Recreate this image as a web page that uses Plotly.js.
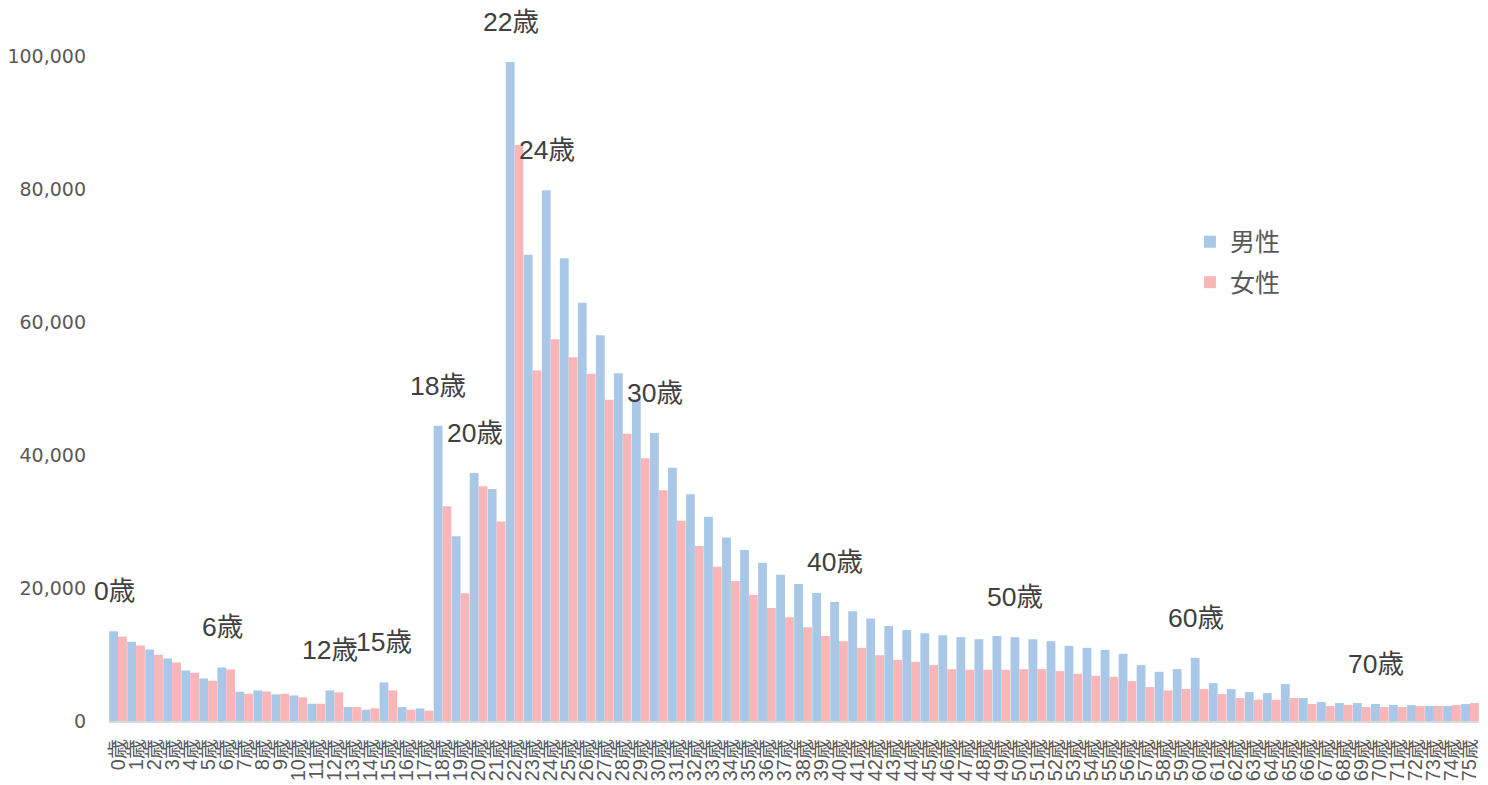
<!DOCTYPE html>
<html>
<head>
<meta charset="utf-8">
<script src="https://cdn.plot.ly/plotly-3.0.1.min.js"></script>
<style>
html,body{margin:0;padding:0;background:#fff;}
#chart{width:1488px;height:785px;}
</style>
</head>
<body>
<div id="chart"></div>
<script>
const ages = ["0歳","1歳","2歳","3歳","4歳","5歳","6歳","7歳","8歳","9歳",
"10歳","11歳","12歳","13歳","14歳","15歳","16歳","17歳","18歳","19歳",
"20歳","21歳","22歳","23歳","24歳","25歳","26歳","27歳","28歳","29歳",
"30歳","31歳","32歳","33歳","34歳","35歳","36歳","37歳","38歳","39歳",
"40歳","41歳","42歳","43歳","44歳","45歳","46歳","47歳","48歳","49歳",
"50歳","51歳","52歳","53歳","54歳","55歳","56歳","57歳","58歳","59歳",
"60歳","61歳","62歳","63歳","64歳","65歳","66歳","67歳","68歳","69歳",
"70歳","71歳","72歳","73歳","74歳","75歳"];

const male = [13500,11900,10750,9400,7600,6400,8050,4400,4600,4000,
3850,2600,4600,2100,1700,5800,2100,1900,44400,27800,
37300,34900,99100,70100,79800,69600,62900,58000,52300,48400,
43300,38100,34100,30700,27600,25700,23800,22000,20600,19250,
17900,16500,15400,14300,13700,13200,12900,12600,12300,12800,
12600,12300,12000,11300,11000,10700,10100,8400,7400,7800,
9500,5700,4800,4350,4200,5550,3450,2850,2700,2700,
2550,2400,2400,2250,2250,2550];

const female = [12700,11350,9950,8800,7250,6050,7750,4100,4450,4100,
3550,2600,4300,2100,1900,4600,1700,1550,32300,19200,
35300,30000,86600,52700,57400,54700,52200,48300,43200,39500,
34700,30100,26300,23200,21050,18950,17000,15600,14100,12800,
12000,11000,9900,9200,8900,8400,7800,7700,7700,7700,
7800,7800,7500,7100,6800,6650,6000,5100,4600,4800,
4800,4050,3450,3200,3200,3450,2550,2250,2400,2100,
2100,2100,2250,2250,2400,2700];

const labeledAges = ["0歳","6歳","12歳","15歳","18歳","20歳","22歳","24歳","30歳","40歳","50歳","60歳","70歳"];

const seriesNames = ["男性","女性"];
const yTicks = [0,20000,40000,60000,80000,100000];
const yTickText = ["0","20,000","40,000","60,000","80,000","100,000"];

const cjk = "Liberation Sans, Noto Sans CJK JP, sans-serif";

const traces = [
  {type:"bar", name:seriesNames[0], x:ages, y:male, marker:{color:"#a9c8e8"}, legendgroup:"m", hoverinfo:"x+y"},
  {type:"bar", name:seriesNames[1], x:ages, y:female, marker:{color:"#f8b6b9"}, legendgroup:"f", hoverinfo:"x+y"}
];

const annotations = labeledAges.map(a => ({
  x:a, y:male[ages.indexOf(a)], xref:"x", yref:"y",
  text:a, showarrow:false, yanchor:"middle", yshift:40, xshift:-4,
  font:{family:cjk, size:26.5, color:"#404040"}
}));

const layout = {
  width:1488, height:785,
  margin:{l:109, r:9, t:56, b:64},
  paper_bgcolor:"#fff", plot_bgcolor:"#fff",
  barmode:"group", bargap:0.02, bargroupgap:0,
  showlegend:true,
  legend:{x:0.789, y:0.755, xanchor:"left", yanchor:"top",
    font:{family:"Noto Sans CJK JP, sans-serif", size:25, color:"#595959"},
    tracegroupgap:5, bgcolor:"rgba(0,0,0,0)"},
  xaxis:{type:"category", range:[-0.5, ages.length-0.5], autorange:false,
    tickmode:"array", tickvals:ages, ticktext:ages,
    tickangle:-90, showgrid:false, zeroline:false,
    showline:true, linecolor:"#d9d9d9", linewidth:2,
    ticks:"", ticklabelstandoff:8,
    tickfont:{family:cjk, size:20, color:"#595959"}, automargin:false},
  yaxis:{range:[0,100000], autorange:false, tickmode:"array", tickvals:yTicks, ticktext:yTickText,
    showgrid:false, zeroline:false, showline:false, ticks:"",
    ticklabelstandoff:22,
    tickfont:{family:"DejaVu Sans, sans-serif", size:19, color:"#595959"}, automargin:false},
  annotations:annotations
};

Plotly.newPlot("chart", traces, layout, {displayModeBar:false, staticPlot:true});
</script>
</body>
</html>
